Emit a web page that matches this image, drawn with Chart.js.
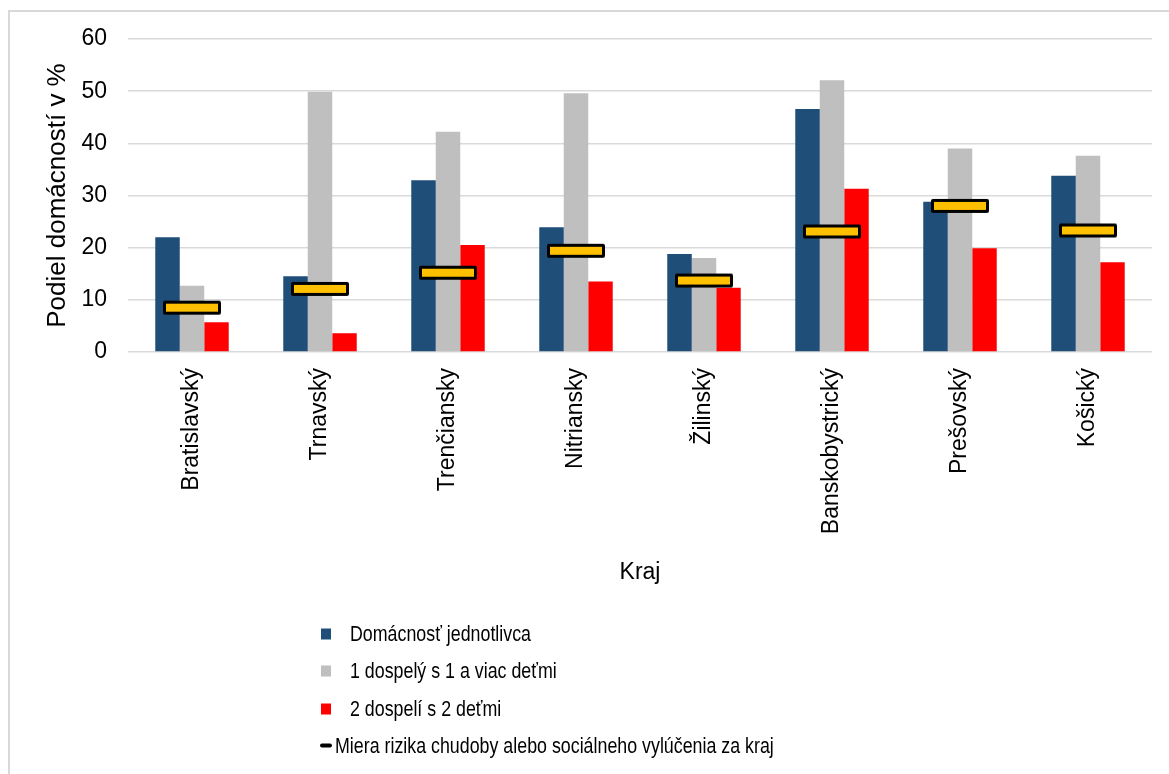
<!DOCTYPE html>
<html>
<head>
<meta charset="utf-8">
<script src="https://cdn.jsdelivr.net/npm/chart.js@4.4.1/dist/chart.umd.min.js"></script>
<style>
  body { margin: 0; background: #fff; overflow: hidden; }
  #wrap { position: relative; width: 1169px; height: 774px; }
  #frame { position: absolute; left: 8px; top: 10px; width: 1200px; height: 800px;
           border-left: 2px solid #d9d9d9; border-top: 2px solid #d9d9d9; }
  #box { position: absolute; left: 0; top: 0; width: 1169px; height: 774px; }
</style>
</head>
<body>
<div id="wrap">
  <div id="frame"></div>
  <div id="box"><canvas id="barChart"></canvas></div>
</div>
<script>
let categories = ['Bratislavský', 'Trnavský', 'Trenčiansky', 'Nitriansky', 'Žilinský', 'Banskobystrický', 'Prešovský', 'Košický'];
let singleHousehold = [22.0, 14.5, 32.9, 23.9, 18.8, 46.6, 28.8, 33.8];
let oneAdultKids = [12.7, 49.9, 42.2, 49.6, 18.0, 52.1, 39.0, 37.6];
let twoAdultsKids = [5.7, 3.6, 20.5, 13.5, 12.3, 31.3, 19.9, 17.2];
let regionRate = [8.5, 12.1, 15.2, 19.4, 13.7, 23.1, 28.0, 23.3];
let yTicks = [0, 10, 20, 30, 40, 50, 60];

let fontName = '"Liberation Sans", Arial, sans-serif';

// yellow bar used as marker for the region rate
function makeMarker() {
    let c = document.createElement('canvas');
    c.width = 60;
    c.height = 16;
    let g = c.getContext('2d');
    g.fillStyle = '#000';
    g.beginPath();
    g.roundRect(1, 1, 58, 14, 2);
    g.fill();
    g.fillStyle = '#FFC000';
    g.fillRect(4, 4, 52, 8);
    return c;
}

// legend drawn as a vertical list below the chart
let listLegend = {
    id: 'listLegend',
    afterDraw(chart) {
        let ctx = chart.ctx;
        let rows = [634, 671, 709, 745.5];
        ctx.save();
        ctx.font = '22px ' + fontName;
        ctx.textBaseline = 'middle';
        chart.data.datasets.forEach((ds, i) => {
            let y = rows[i];
            let tx = 350;
            if (ds.type === 'line') {
                ctx.fillStyle = '#000';
                ctx.beginPath();
                ctx.roundRect(320, y - 2, 12, 4, 2);
                ctx.fill();
                tx = 335;
            } else {
                ctx.fillStyle = ds.backgroundColor;
                ctx.fillRect(321, y - 5.5, 10, 11);
            }
            ctx.fillStyle = '#000';
            ctx.save();
            ctx.translate(tx, y + 1);
            ctx.scale(0.81, 1);
            ctx.fillText(ds.label, 0, 0);
            ctx.restore();
        });
        ctx.restore();
    }
};

window.onload = function () {
    let ctx = document.getElementById('barChart').getContext('2d');
    window.myBar = new Chart(ctx, {
        type: 'bar',
        data: {
            labels: categories,
            datasets: [{
                label: 'Domácnosť jednotlivca',
                data: singleHousehold,
                backgroundColor: '#1F4E79',
                order: 1
            }, {
                label: '1 dospelý s 1 a viac deťmi',
                data: oneAdultKids,
                backgroundColor: '#BFBFBF',
                order: 1
            }, {
                label: '2 dospelí s 2 deťmi',
                data: twoAdultsKids,
                backgroundColor: '#FF0000',
                order: 1
            }, {
                type: 'line',
                label: 'Miera rizika chudoby alebo sociálneho vylúčenia za kraj',
                data: regionRate,
                showLine: false,
                pointStyle: makeMarker(),
                order: 0
            }]
        },
        options: {
            responsive: true,
            maintainAspectRatio: false,
            animation: false,
            categoryPercentage: 0.574,
            barPercentage: 1.0,
            layout: { padding: { left: 0, top: 39, right: 17, bottom: 184 } },
            plugins: {
                legend: { display: false },
                tooltip: { enabled: false }
            },
            scales: {
                x: {
                    grid: { display: false },
                    border: { display: false },
                    ticks: {
                        color: '#000',
                        font: { family: fontName, size: 23 },
                        minRotation: 90,
                        maxRotation: 90,
                        padding: 8
                    },
                    title: {
                        display: true,
                        text: 'Kraj',
                        color: '#000',
                        font: { family: fontName, size: 23 },
                        padding: { top: 0, bottom: 4 }
                    },
                    afterFit: function (scale) { scale.height = 238; }
                },
                y: {
                    min: 0,
                    max: 60,
                    afterBuildTicks: function (scale) {
                        scale.ticks = yTicks.map(v => ({ value: v }));
                    },
                    grid: { color: '#d9d9d9', lineWidth: 1.5, drawTicks: false },
                    border: { display: false },
                    ticks: {
                        color: '#000',
                        font: { family: fontName, size: 23 },
                        padding: 21
                    },
                    title: {
                        display: true,
                        text: 'Podiel domácností v %',
                        color: '#000',
                        font: { family: fontName, size: 26 },
                        padding: { top: 42, bottom: 0 }
                    },
                    afterFit: function (scale) { scale.width = 128; }
                }
            }
        },
        plugins: [listLegend]
    });
};
</script>
</body>
</html>
